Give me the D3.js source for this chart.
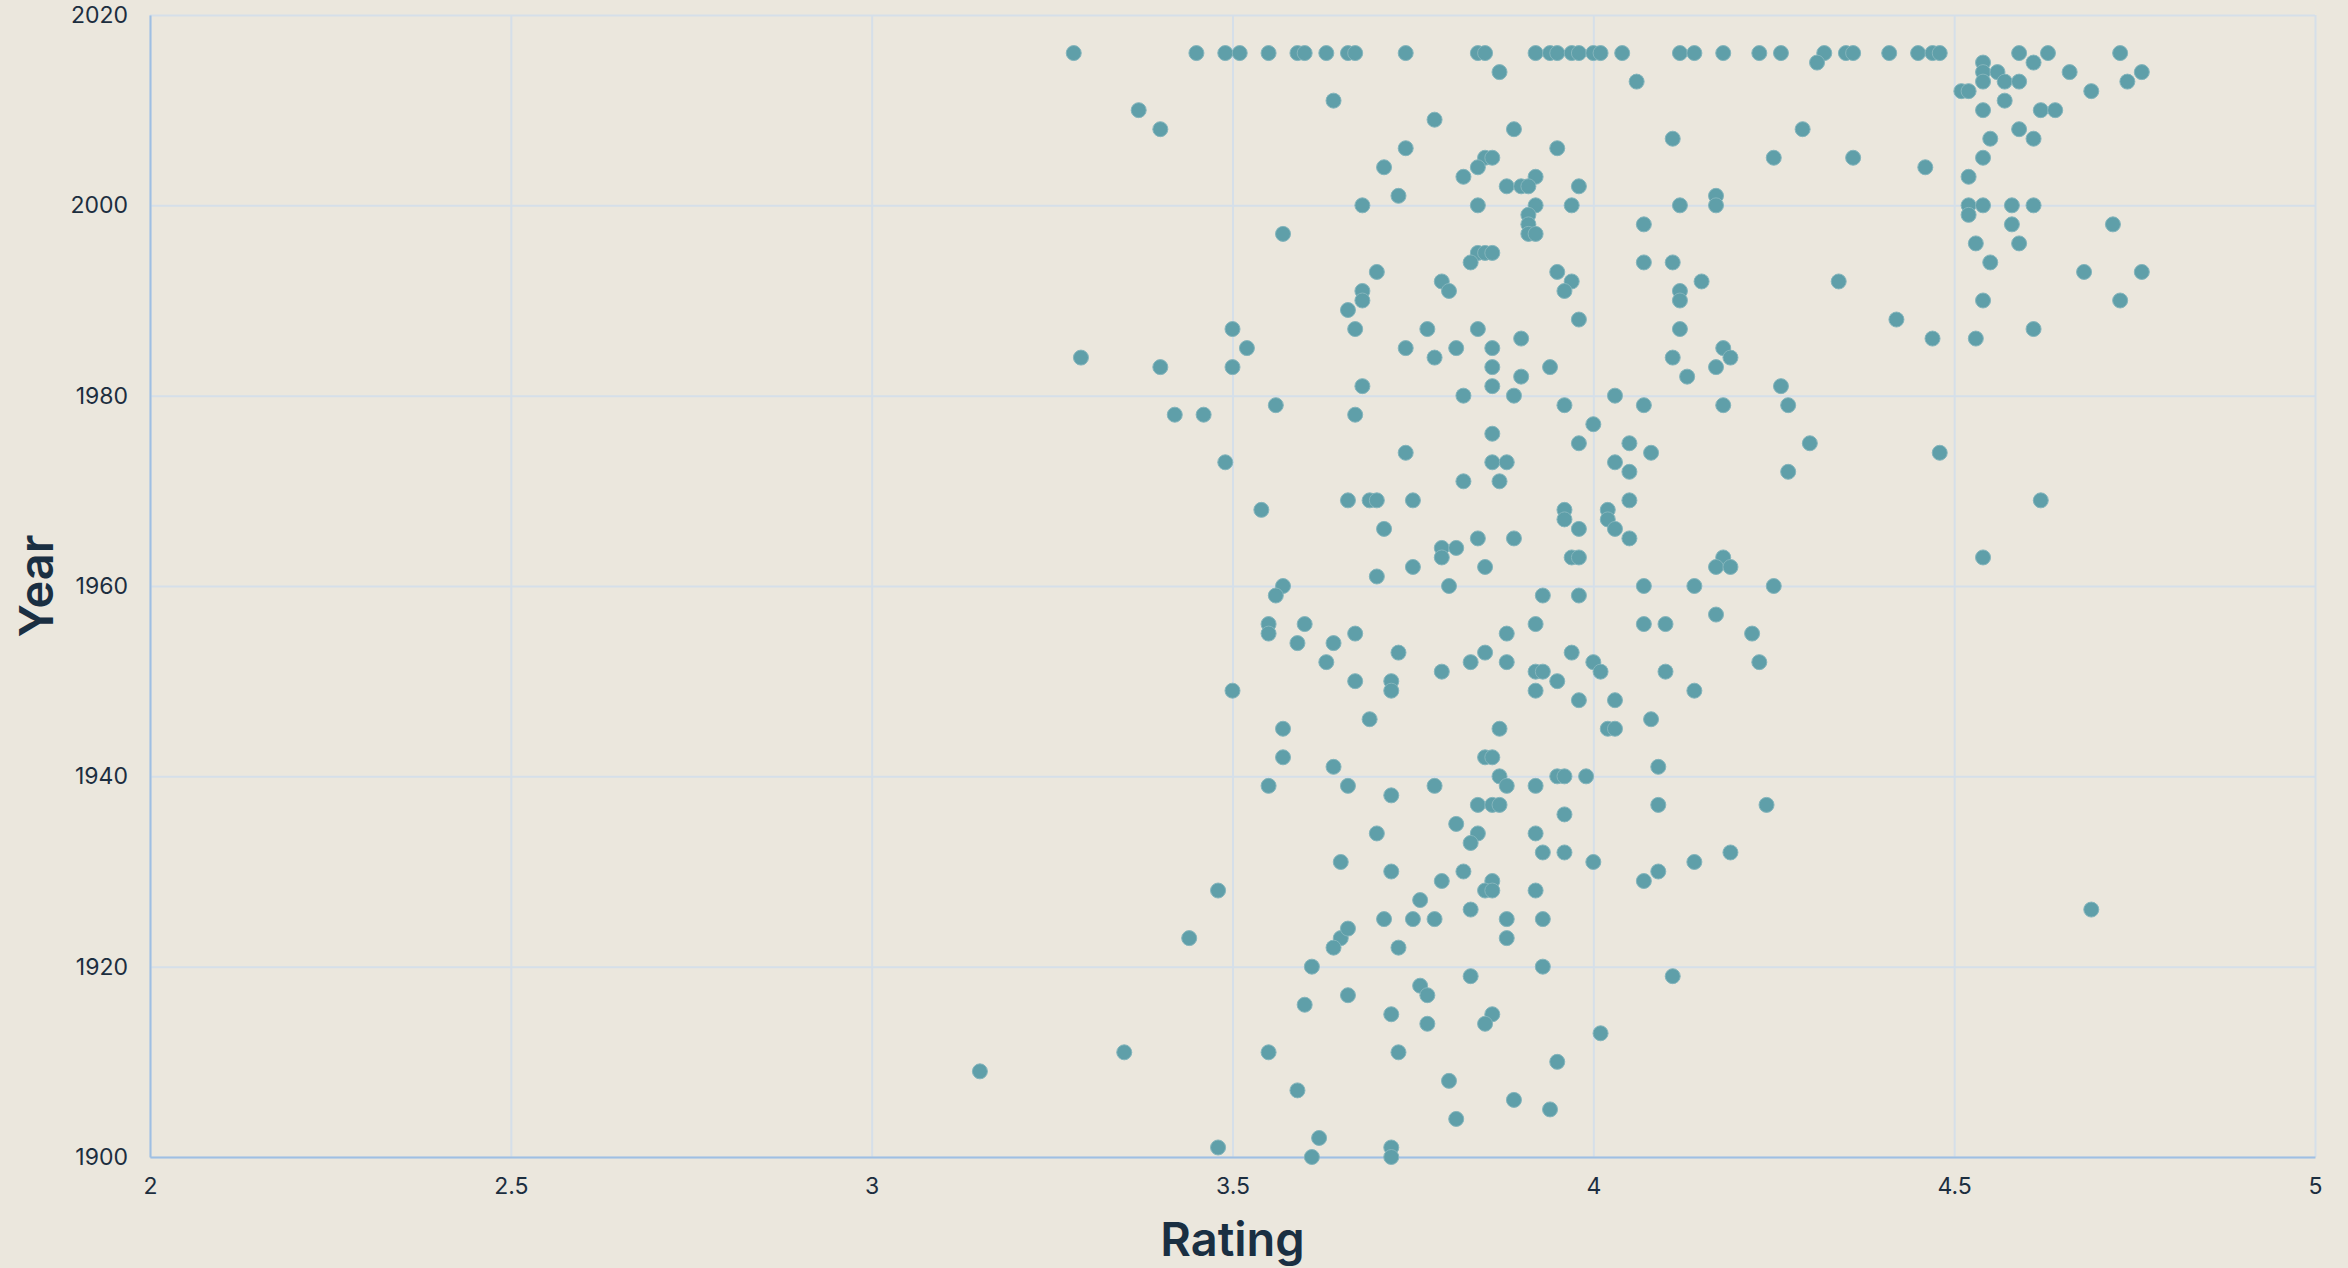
<!DOCTYPE html>
<html>
<head>
<meta charset="utf-8">
<script src="https://cdn.jsdelivr.net/npm/d3@7"></script>
<style>
  body { margin: 0; background: #ebe7dd; }
  svg { display: block; font-family: Inter, "Noto Sans", sans-serif; }
  .tick text { fill: #1c2e3f; font-size: 23px; }
</style>
</head>
<body>
<div id="chart"></div>
<script>
// tick values
var xTicks = [2, 2.5, 3, 3.5, 4, 4.5, 5];
var yTicks = [1900, 1920, 1940, 1960, 1980, 2000, 2020];

// one entry per book: rating and publication year (same order in both lists)
var ratings = [
    3.28, 3.45, 3.49, 3.51, 3.55, 3.59, 3.60, 3.63, 3.37, 3.40,
    3.64, 3.57, 3.50, 3.52, 3.29, 3.40, 3.50, 3.66, 3.67, 3.74,
    3.84, 3.85, 3.92, 3.94, 3.95, 3.97, 3.98, 4.00, 4.01, 4.04,
    4.12, 4.14, 4.18, 4.23, 3.87, 4.06, 3.78, 3.89, 4.11, 3.74,
    3.95, 3.85, 3.86, 3.71, 3.84, 3.82, 3.92, 3.88, 3.90, 3.91,
    3.98, 3.73, 4.17, 3.68, 3.84, 3.92, 3.97, 4.12, 4.17, 3.91,
    3.91, 3.91, 3.92, 4.07, 3.84, 3.85, 3.86, 3.83, 4.07, 4.11,
    3.70, 3.95, 3.79, 3.97, 4.15, 3.80, 3.96, 4.12, 3.68, 3.68,
    4.12, 3.66, 3.98, 3.67, 3.77, 3.84, 4.12, 3.90, 3.74, 3.81,
    3.86, 4.18, 3.78, 4.11, 4.19, 3.86, 3.94, 4.17, 4.13, 3.68,
    3.86, 3.90, 3.82, 3.89, 4.03, 4.26, 4.32, 4.35, 4.36, 4.41,
    4.45, 4.47, 4.48, 4.59, 4.63, 4.73, 4.31, 4.54, 4.61, 4.54,
    4.56, 4.66, 4.76, 4.54, 4.57, 4.59, 4.74, 4.51, 4.52, 4.69,
    4.57, 4.54, 4.62, 4.64, 4.29, 4.59, 4.55, 4.61, 4.25, 4.36,
    4.54, 4.46, 4.52, 4.52, 4.54, 4.58, 4.61, 4.52, 4.58, 4.72,
    4.53, 4.59, 4.55, 4.68, 4.76, 4.34, 4.54, 4.73, 4.42, 4.61,
    4.47, 4.53, 4.26, 3.56, 3.42, 3.46, 3.49, 3.54, 3.57, 3.56,
    3.55, 3.60, 3.55, 3.59, 3.64, 3.63, 3.50, 3.57, 3.57, 3.64,
    3.96, 4.07, 4.18, 3.67, 4.00, 3.86, 3.98, 4.05, 3.74, 4.08,
    3.86, 3.88, 4.03, 4.05, 3.82, 3.87, 3.66, 3.69, 3.70, 3.75,
    4.05, 3.96, 4.02, 3.96, 4.02, 3.71, 3.98, 4.03, 3.84, 3.89,
    4.05, 3.79, 3.81, 3.79, 3.97, 3.98, 4.18, 3.75, 3.85, 4.17,
    4.19, 3.70, 3.80, 4.07, 4.14, 3.93, 3.98, 3.92, 4.07, 4.10,
    4.17, 3.67, 3.88, 4.22, 3.73, 3.85, 3.97, 4.23, 3.83, 3.88,
    4.00, 3.79, 3.92, 3.93, 4.01, 4.10, 3.67, 3.72, 3.95, 3.72,
    3.92, 4.14, 3.98, 4.03, 3.69, 4.08, 3.87, 4.02, 4.03, 3.85,
    3.86, 4.09, 3.87, 3.95, 3.96, 3.99,
    4.27, 4.30, 4.48, 4.27, 4.62, 4.54, 4.25,
    3.55, 3.65, 3.48, 3.65, 3.64, 3.44, 3.61, 3.60, 3.35, 3.55, 3.15, 3.59, 3.62, 3.48, 3.61,
    3.66, 3.78, 3.88, 3.92, 3.72, 3.84, 3.86, 3.87, 4.09, 4.24,
    3.96, 3.81, 3.70, 3.84, 3.92, 3.83, 3.93, 3.96, 4.19, 4.00,
    4.14, 3.72, 3.82, 4.09, 3.79, 3.86, 4.07, 3.85, 3.86, 3.92,
    3.76, 3.83, 3.71, 3.75, 3.78, 3.88, 3.93, 3.66, 3.88, 3.73,
    3.93, 3.83, 4.11, 3.76, 3.66, 3.77, 3.72, 3.86, 3.77, 3.85,
    4.01, 3.73, 3.95, 3.80, 3.89, 3.94, 3.81, 3.72, 3.72,
    4.69
];

var years = [
    2016, 2016, 2016, 2016, 2016, 2016, 2016, 2016, 2010, 2008,
    2011, 1997, 1987, 1985, 1984, 1983, 1983, 2016, 2016, 2016,
    2016, 2016, 2016, 2016, 2016, 2016, 2016, 2016, 2016, 2016,
    2016, 2016, 2016, 2016, 2014, 2013, 2009, 2008, 2007, 2006,
    2006, 2005, 2005, 2004, 2004, 2003, 2003, 2002, 2002, 2002,
    2002, 2001, 2001, 2000, 2000, 2000, 2000, 2000, 2000, 1999,
    1998, 1997, 1997, 1998, 1995, 1995, 1995, 1994, 1994, 1994,
    1993, 1993, 1992, 1992, 1992, 1991, 1991, 1991, 1991, 1990,
    1990, 1989, 1988, 1987, 1987, 1987, 1987, 1986, 1985, 1985,
    1985, 1985, 1984, 1984, 1984, 1983, 1983, 1983, 1982, 1981,
    1981, 1982, 1980, 1980, 1980, 2016, 2016, 2016, 2016, 2016,
    2016, 2016, 2016, 2016, 2016, 2016, 2015, 2015, 2015, 2014,
    2014, 2014, 2014, 2013, 2013, 2013, 2013, 2012, 2012, 2012,
    2011, 2010, 2010, 2010, 2008, 2008, 2007, 2007, 2005, 2005,
    2005, 2004, 2003, 2000, 2000, 2000, 2000, 1999, 1998, 1998,
    1996, 1996, 1994, 1993, 1993, 1992, 1990, 1990, 1988, 1987,
    1986, 1986, 1981, 1979, 1978, 1978, 1973, 1968, 1960, 1959,
    1956, 1956, 1955, 1954, 1954, 1952, 1949, 1945, 1942, 1941,
    1979, 1979, 1979, 1978, 1977, 1976, 1975, 1975, 1974, 1974,
    1973, 1973, 1973, 1972, 1971, 1971, 1969, 1969, 1969, 1969,
    1969, 1968, 1968, 1967, 1967, 1966, 1966, 1966, 1965, 1965,
    1965, 1964, 1964, 1963, 1963, 1963, 1963, 1962, 1962, 1962,
    1962, 1961, 1960, 1960, 1960, 1959, 1959, 1956, 1956, 1956,
    1957, 1955, 1955, 1955, 1953, 1953, 1953, 1952, 1952, 1952,
    1952, 1951, 1951, 1951, 1951, 1951, 1950, 1950, 1950, 1949,
    1949, 1949, 1948, 1948, 1946, 1946, 1945, 1945, 1945, 1942,
    1942, 1941, 1940, 1940, 1940, 1940,
    1979, 1975, 1974, 1972, 1969, 1963, 1960,
    1939, 1931, 1928, 1923, 1922, 1923, 1920, 1916, 1911, 1911, 1909, 1907, 1902, 1901, 1900,
    1939, 1939, 1939, 1939, 1938, 1937, 1937, 1937, 1937, 1937,
    1936, 1935, 1934, 1934, 1934, 1933, 1932, 1932, 1932, 1931,
    1931, 1930, 1930, 1930, 1929, 1929, 1929, 1928, 1928, 1928,
    1927, 1926, 1925, 1925, 1925, 1925, 1925, 1924, 1923, 1922,
    1920, 1919, 1919, 1918, 1917, 1917, 1915, 1915, 1914, 1914,
    1913, 1911, 1910, 1908, 1906, 1905, 1904, 1901, 1900,
    1926
];

if (ratings.length != years.length) console.error("ratings/years length mismatch");

var data = ratings.map(function(r, i) {
    return { Rating: r, Year: years[i] };
});

// set the dimensions and margins of the graph
var margin = { top: 15, right: 33, bottom: 111, left: 150 },
    width = 2348 - margin.left - margin.right,
    height = 1268 - margin.top - margin.bottom;

var svg = d3.select("#chart")
    .append("svg")
    .attr("width", 2348)
    .attr("height", 1268)
    .append("g")
    .attr("transform", "translate(" + margin.left + "," + margin.top + ")");

var x = d3.scaleLinear().domain([2, 5]).range([0, width]);
var y = d3.scaleLinear().domain([1900, 2020]).range([height, 0]);

// gridlines
svg.append("g")
    .attr("transform", "translate(0," + height + ")")
    .call(d3.axisBottom(x).tickValues(xTicks).tickSize(-height).tickFormat(""))
    .call(function(g) { g.select(".domain").remove(); })
    .selectAll("line")
    .attr("stroke", "#d5dfe9")
    .attr("stroke-width", 2);

svg.append("g")
    .call(d3.axisLeft(y).tickValues(yTicks).tickSize(-width).tickFormat(""))
    .call(function(g) { g.select(".domain").remove(); })
    .selectAll("line")
    .attr("stroke", "#d5dfe9")
    .attr("stroke-width", 2);

// axes with labels
svg.append("g")
    .attr("transform", "translate(0," + height + ")")
    .call(d3.axisBottom(x).tickValues(xTicks).tickSize(0).tickPadding(21).tickFormat(d3.format("")))
    .call(function(g) {
        g.select(".domain").attr("stroke", "#9fbfe2").attr("stroke-width", 2);
    });

svg.append("g")
    .call(d3.axisLeft(y).tickValues(yTicks).tickSize(0).tickPadding(22).tickFormat(d3.format("d")))
    .call(function(g) {
        g.select(".domain").attr("stroke", "#9fbfe2").attr("stroke-width", 2);
    });

svg.selectAll(".tick text").attr("font-family", "Inter, 'Noto Sans', sans-serif");

// dots
svg.append("g")
    .selectAll("circle")
    .data(data)
    .enter()
    .append("circle")
    .attr("cx", function(d) { return x(d.Rating); })
    .attr("cy", function(d) { return y(d.Year); })
    .attr("r", 7.5)
    .style("fill", "#5f9fa9")
    .style("stroke", "#84b5bc")
    .style("stroke-width", 1);

// axis titles
svg.append("text")
    .attr("x", width / 2)
    .attr("y", height + 99)
    .attr("text-anchor", "middle")
    .attr("fill", "#1a2f42")
    .attr("font-size", 47)
    .attr("font-weight", 600)
    .text("Rating");

svg.append("text")
    .attr("transform", "translate(" + (53 - margin.left) + "," + (height / 2) + ") rotate(-90)")
    .attr("text-anchor", "middle")
    .attr("fill", "#1a2f42")
    .attr("font-size", 47)
    .attr("font-weight", 600)
    .text("Year");
</script>
</body>
</html>
